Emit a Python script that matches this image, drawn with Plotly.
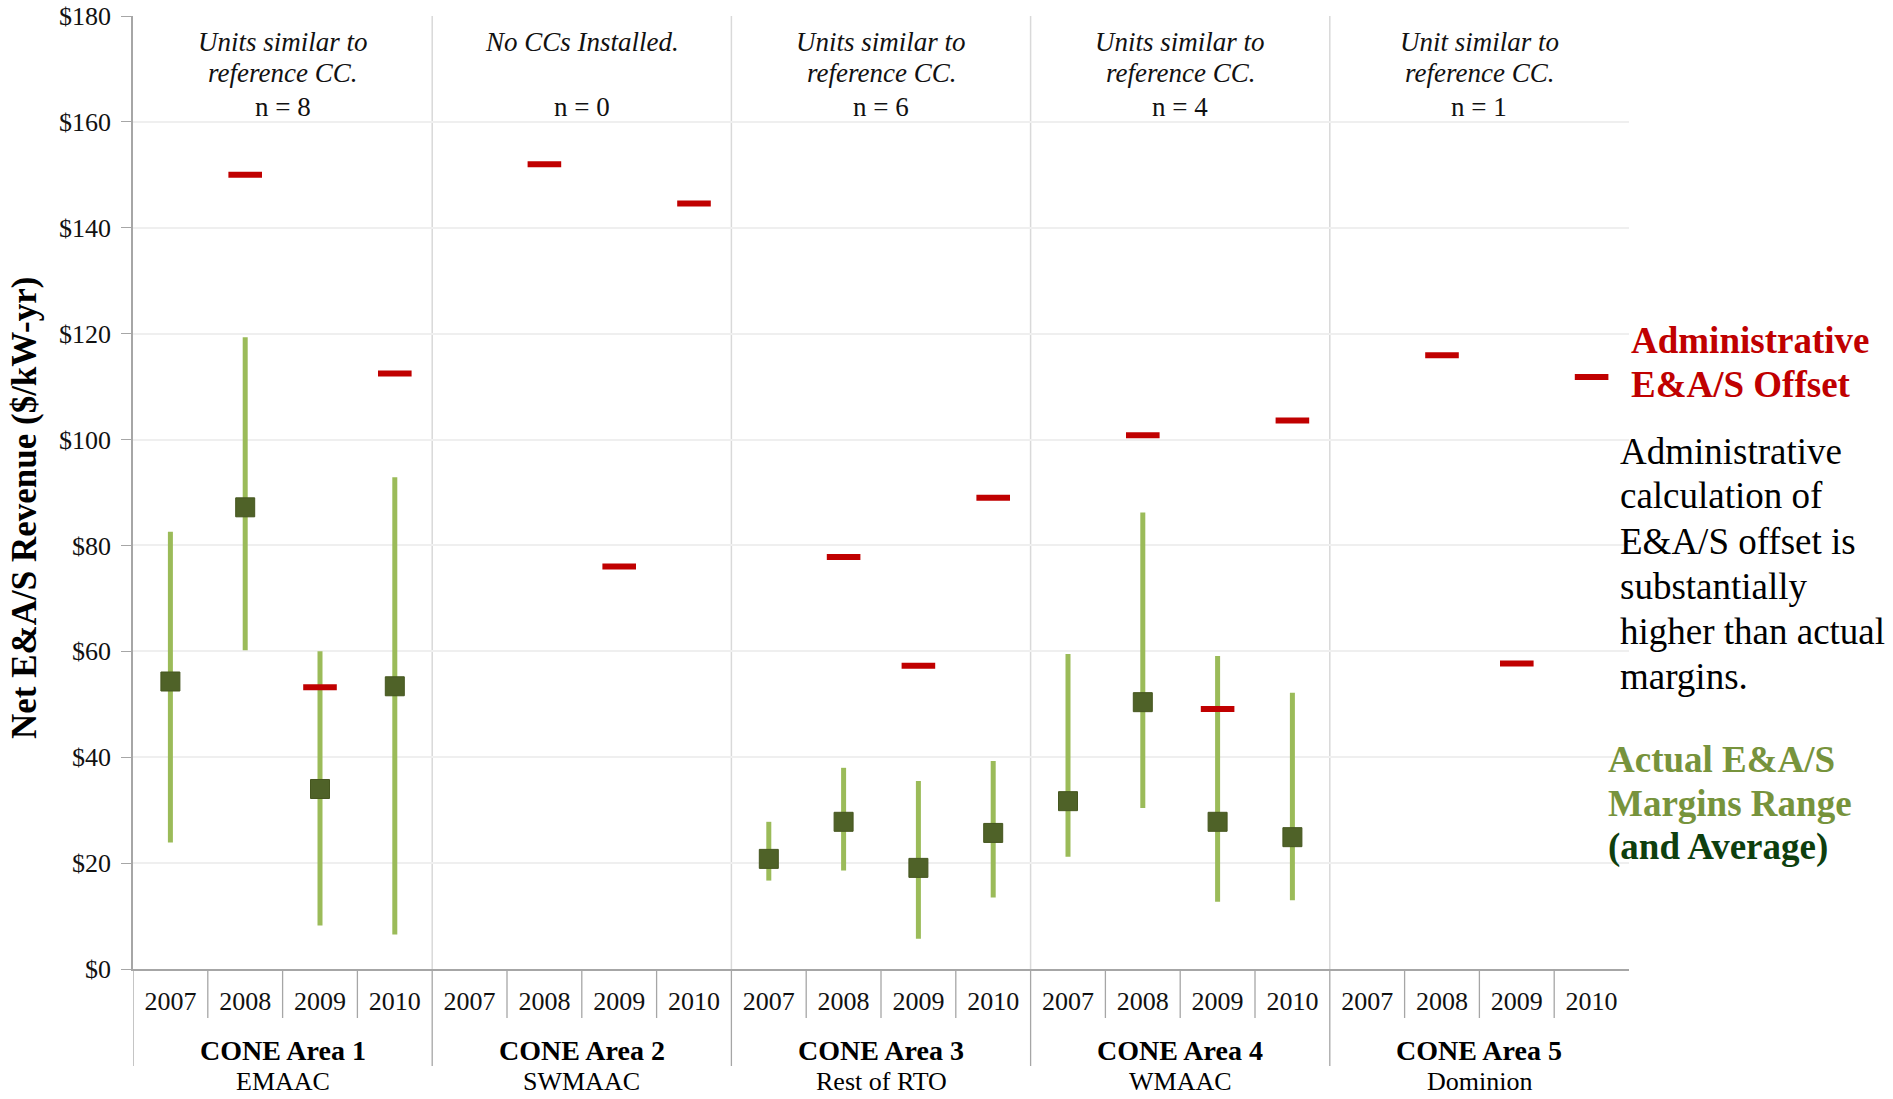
import plotly.graph_objects as go
import numpy as np

# ---------------- data ----------------
areas = ["CONE Area 1", "CONE Area 2", "CONE Area 3", "CONE Area 4", "CONE Area 5"]
regions = ["EMAAC", "SWMAAC", "Rest of RTO", "WMAAC", "Dominion"]
years = ["2007", "2008", "2009", "2010"]

note_line1 = ["Units similar to", "No CCs Installed.", "Units similar to", "Units similar to", "Unit similar to"]
note_line2 = ["reference CC.", "", "reference CC.", "reference CC.", "reference CC."]
n_units = [8, 0, 6, 4, 1]

# Administrative E&A/S offset ($/kW-yr)
admin_offset = [
    [None, 150.0, 53.2, 112.5],
    [None, 152.0, 76.0, 144.6],
    [None, 77.8, 57.3, 89.0],
    [None, 100.8, 49.1, 103.6],
    [None, 115.9, 57.7, 111.8],
]
# Actual E&A/S margins: average, min, max ($/kW-yr)
margin_avg = [
    [54.3, 87.2, 34.0, 53.4],
    [None, None, None, None],
    [20.8, 27.8, 19.1, 25.7],
    [31.7, 50.4, 27.8, 24.9],
    [None, None, None, None],
]
margin_min = [
    [23.9, 60.2, 8.2, 6.5],
    [None, None, None, None],
    [16.7, 18.6, 5.7, 13.5],
    [21.2, 30.4, 12.7, 13.0],
    [None, None, None, None],
]
margin_max = [
    [82.6, 119.3, 60.0, 92.9],
    [None, None, None, None],
    [27.8, 38.0, 35.5, 39.3],
    [59.5, 86.2, 59.1, 52.2],
    [None, None, None, None],
]

# ---------------- geometry / style ----------------
FIG_W, FIG_H = 1893, 1099
# plot area in pixels
L, T, R, B = 133, 16, 1629, 969
W, H = R - L, B - T
FONT = "Liberation Serif, Times New Roman, serif"
RED = "#C00000"
LGREEN = "#9BBB59"
DGREEN = "#4F6228"
AXIS_GRAY = "#A6A6A6"
TXT = "#111111"


def px(xp):
    return (xp - L) / W


def py(yp):
    return (B - yp) / H


ny = len(years)
na = len(areas)
n = na * ny
xs = [a * ny + k for a in range(na) for k in range(ny)]


def flat(m):
    return np.array([np.nan if v is None else v for row in m for v in row], dtype=float)


avg = flat(margin_avg)
lo = flat(margin_min)
hi = flat(margin_max)
adm = flat(admin_offset)

fig = go.Figure()

fig.add_trace(go.Scatter(
    x=xs, y=avg, mode="markers",
    marker=dict(symbol="square", size=19, color=DGREEN, line=dict(width=1, color="#45561f")),
    error_y=dict(type="data", symmetric=False, array=hi - avg, arrayminus=avg - lo,
                 color=LGREEN, thickness=5, width=0),
    showlegend=False, hoverinfo="y",
))

fig.add_trace(go.Scatter(
    x=xs, y=adm, mode="markers",
    marker=dict(symbol="line-ew", size=24, line=dict(width=6, color=RED)),
    showlegend=False, hoverinfo="y",
))

shapes = []
# vertical separators inside the plot between areas
for a in range(1, na):
    xb = a * ny - 0.5
    shapes.append(dict(type="line", xref="x", yref="paper", x0=xb, x1=xb, y0=0, y1=1,
                       line=dict(color="#D9D9D9", width=1.5), layer="below"))
# separators under the axis
for i in range(n):
    xb = i - 0.5
    y1 = py(1066) if i % ny == 0 else py(1018)
    shapes.append(dict(type="line", xref="x", yref="paper", x0=xb, x1=xb, y0=0, y1=y1,
                       line=dict(color=AXIS_GRAY, width=1.3)))

ann = []
for a in range(na):
    xc = a * ny + (ny - 1) / 2
    ann.append(dict(x=xc, y=py(42), xref="x", yref="paper", text="<i>%s</i>" % note_line1[a],
                    showarrow=False, font=dict(size=27, family=FONT, color=TXT),
                    xanchor="center", yanchor="middle"))
    if note_line2[a]:
        ann.append(dict(x=xc, y=py(73), xref="x", yref="paper", text="<i>%s</i>" % note_line2[a],
                        showarrow=False, font=dict(size=27, family=FONT, color=TXT),
                        xanchor="center", yanchor="middle"))
    ann.append(dict(x=xc, y=py(107), xref="x", yref="paper", text="n = %d" % n_units[a],
                    showarrow=False, font=dict(size=27, family=FONT, color=TXT),
                    xanchor="center", yanchor="middle"))
    ann.append(dict(x=xc, y=py(1050), xref="x", yref="paper", text="<b>%s</b>" % areas[a],
                    showarrow=False, font=dict(size=28, family=FONT, color="black"),
                    xanchor="center", yanchor="middle"))
    ann.append(dict(x=xc, y=py(1081), xref="x", yref="paper", text=regions[a],
                    showarrow=False, font=dict(size=26, family=FONT, color="black"),
                    xanchor="center", yanchor="middle", borderpad=0))

# y-axis title
ann.append(dict(x=px(24), y=py(508), xref="paper", yref="paper",
                text="<b>Net E&A/S Revenue ($/kW-yr)</b>", textangle=-90, showarrow=False,
                font=dict(size=35, family=FONT, color="black"), xanchor="center", yanchor="middle"))

# right-hand commentary
red_lines = ["Administrative", "E&A/S Offset"]
for i, t in enumerate(red_lines):
    ann.append(dict(x=px(1629), y=py(340 + 44 * i), xref="paper", yref="paper", text="<b>%s</b>" % t,
                    showarrow=False, font=dict(size=37, family=FONT, color=RED),
                    xanchor="left", yanchor="middle"))
black_lines = ["Administrative", "calculation of", "E&A/S offset is", "substantially",
               "higher than actual", "margins."]
for i, t in enumerate(black_lines):
    ann.append(dict(x=px(1618), y=py(451 + 45 * i), xref="paper", yref="paper", text=t,
                    showarrow=False, font=dict(size=37, family=FONT, color="black"),
                    xanchor="left", yanchor="middle"))
green_lines = [("Actual E&A/S", "#77933C"), ("Margins Range", "#77933C"), ("(and Average)", "#0E3F0E")]
for i, (t, c) in enumerate(green_lines):
    ann.append(dict(x=px(1606), y=py(759 + 44 * i), xref="paper", yref="paper", text="<b>%s</b>" % t,
                    showarrow=False, font=dict(size=37, family=FONT, color=c),
                    xanchor="left", yanchor="middle"))

fig.update_layout(
    width=FIG_W, height=FIG_H,
    margin=dict(l=L, r=FIG_W - R, t=T, b=FIG_H - B, pad=0, autoexpand=False),
    paper_bgcolor="white", plot_bgcolor="white",
    font=dict(family=FONT, size=26, color="black"),
    shapes=shapes, annotations=ann, showlegend=False,
    xaxis=dict(range=[-0.5, n - 0.5], tickmode="array", tickvals=list(range(n)),
               ticktext=[years[i % ny] for i in range(n)], showgrid=False, zeroline=False,
               showline=True, linecolor=AXIS_GRAY, linewidth=1.5, ticks="",
               tickfont=dict(size=26, family=FONT, color=TXT), ticklabelstandoff=8,
               automargin=False, fixedrange=True),
    yaxis=dict(range=[0, 180], tickmode="linear", tick0=0, dtick=20, tickprefix="$",
               showgrid=True, gridcolor="#EFEFEF", gridwidth=1.5, zeroline=False,
               showline=True, linecolor=AXIS_GRAY, linewidth=1.5, ticks="outside", ticklen=10,
               tickcolor=AXIS_GRAY, tickwidth=1.3, ticklabelstandoff=5, ticklabeloverflow="allow",
               tickfont=dict(size=26, family=FONT, color=TXT), automargin=False, fixedrange=True),
)

fig.write_html("out.html", config={"displayModeBar": False},
               post_script="document.body.style.margin='0';document.body.style.overflow='hidden';")
